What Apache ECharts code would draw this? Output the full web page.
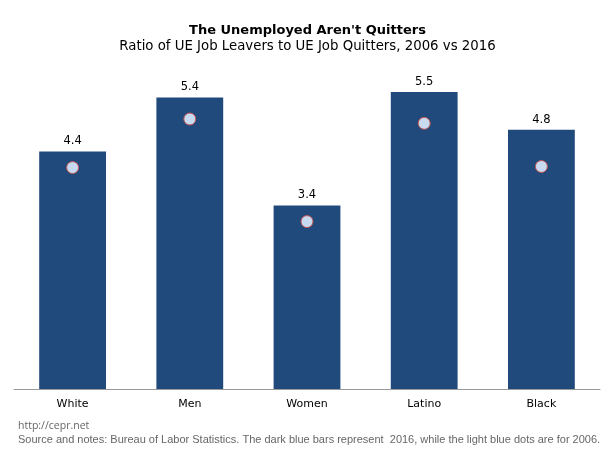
<!DOCTYPE html>
<html><head><meta charset="utf-8">
<script src="https://cdn.jsdelivr.net/npm/echarts@6/dist/echarts.min.js"></script>
<style>html,body{margin:0;padding:0;background:#fff}#c{width:615px;height:453px}</style>
</head><body><div id="c"></div>
<script>
var categories = ['White', 'Men', 'Women', 'Latino', 'Black'];
var values2016 = [4.4, 5.4, 3.4, 5.5, 4.8];
var values2006 = [4.1, 5.0, 3.1, 4.92, 4.12];

var chart = echarts.init(document.getElementById('c'));
chart.setOption({
  animation: false,
  backgroundColor: '#fff',
  title: [
    {text: "The Unemployed Aren't Quitters", left: 'center', top: 19,
     textStyle: {fontFamily: 'DejaVu Sans', fontSize: 13, fontWeight: 'bold', color: '#000'}},
    {text: 'Ratio of UE Job Leavers to UE Job Quitters, 2006 vs 2016', left: 'center', top: 35,
     textStyle: {fontFamily: 'DejaVu Sans', fontSize: 13.3, fontWeight: 'normal', color: '#000'}},
    {text: 'http://cepr.net', left: 13, top: 416,
     textStyle: {fontFamily: 'Open Sans', fontSize: 10.5, fontWeight: 'normal', color: '#666'}},
    {text: 'Source and notes: Bureau of Labor Statistics. The dark blue bars represent  2016, while the light blue dots are for 2006.', left: 13, top: 429,
     textStyle: {fontFamily: 'Liberation Sans', fontSize: 11, fontWeight: 'normal', color: '#666'}}
  ],
  grid: {left: 14, right: 15, top: 65, bottom: 64, containLabel: false},
  xAxis: {
    type: 'category', data: categories,
    axisLine: {lineStyle: {color: '#999', width: 1}},
    axisTick: {show: false},
    axisLabel: {fontFamily: 'DejaVu Sans', fontSize: 11, color: '#000', margin: 10}
  },
  yAxis: {type: 'value', min: 0, max: 6, interval: 1, show: false, splitLine: {show: false}},
  series: [
    {type: 'bar', data: values2016, barWidth: '57%',
     itemStyle: {color: '#214a7c'},
     label: {show: true, position: 'top', distance: 4, fontFamily: 'DejaVu Sans', fontSize: 11.5, color: '#000',
             formatter: function(p){return p.value.toFixed(1);}}},
    {type: 'scatter', data: values2006, symbol: 'circle', symbolSize: 12, z: 5,
     itemStyle: {color: '#c8daf0', opacity: 1, borderColor: '#c0504d', borderWidth: 1}}
  ]
});
</script></body></html>
